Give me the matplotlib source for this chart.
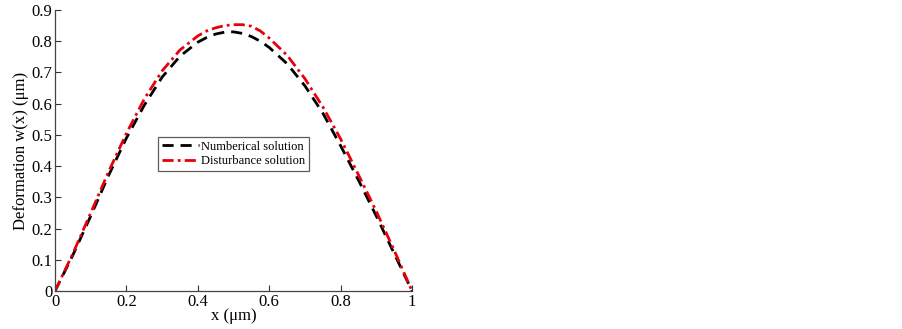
import matplotlib
matplotlib.use("Agg")
import matplotlib.pyplot as plt

x_vals = [0.0, 0.05, 0.1, 0.15, 0.2, 0.25, 0.3, 0.35, 0.4, 0.425, 0.45, 0.475, 0.5,
          0.525, 0.55, 0.575, 0.6, 0.65, 0.7, 0.75, 0.8, 0.85, 0.9, 0.95, 1.0]
numerical = [0.0, 0.115, 0.24, 0.37, 0.49, 0.595, 0.685, 0.752, 0.797, 0.812, 0.823, 0.829, 0.83,
             0.825, 0.815, 0.8, 0.78, 0.728, 0.657, 0.57, 0.465, 0.355, 0.24, 0.12, 0.0]
disturbance = [0.0, 0.12, 0.25, 0.382, 0.505, 0.615, 0.705, 0.772, 0.817, 0.833, 0.843, 0.85, 0.853,
               0.853, 0.848, 0.833, 0.81, 0.755, 0.68, 0.59, 0.487, 0.372, 0.255, 0.13, 0.0]

xticks = [0, 0.2, 0.4, 0.6, 0.8, 1]
xtick_labels = ["0", "0.2", "0.4", "0.6", "0.8", "1"]
yticks = [0, 0.1, 0.2, 0.3, 0.4, 0.5, 0.6, 0.7, 0.8, 0.9]
ytick_labels = ["0", "0.1", "0.2", "0.3", "0.4", "0.5", "0.6", "0.7", "0.8", "0.9"]

plt.rcParams['font.family'] = ['Liberation Serif', 'DejaVu Serif']

fig = plt.figure(figsize=(9.02, 3.29), dpi=100)
ax = fig.add_axes([0.061, 0.1155, 0.3958, 0.8541])

ax.plot(x_vals, numerical, color='black', linestyle=(0, (4, 2.5)), linewidth=2.0,
        label='Numberical solution')
ax.plot(x_vals, disturbance, color='#e8000b', linestyle=(0, (4, 1.5, 1, 1.5)), linewidth=2.0,
        label='Disturbance solution')

ax.set_xlim(0, 1)
ax.set_ylim(0, 0.9)
ax.set_xticks(xticks)
ax.set_xticklabels(xtick_labels)
ax.set_yticks(yticks)
ax.set_yticklabels(ytick_labels)
ax.tick_params(direction='in', length=4, width=0.8, labelsize=12, colors='#333333',
               labelcolor='black', pad=2)
for s in ['top', 'right']:
    ax.spines[s].set_visible(False)
for s in ['left', 'bottom']:
    ax.spines[s].set_color('#444444')
    ax.spines[s].set_linewidth(0.9)

ax.set_xlabel('x (μm)', fontsize=12, labelpad=-1)
ax.set_ylabel('Deformation w(x) (μm)', fontsize=12, labelpad=2)

leg = ax.legend(loc='upper left', bbox_to_anchor=(0.289, 0.548), fontsize=9,
                frameon=True, fancybox=False, handlelength=3.0, handletextpad=0.1,
                borderpad=0.3, labelspacing=0.2, borderaxespad=0)
leg.get_frame().set_edgecolor('#333333')
leg.get_frame().set_linewidth(0.9)

fig.savefig('out.png', dpi=100)
